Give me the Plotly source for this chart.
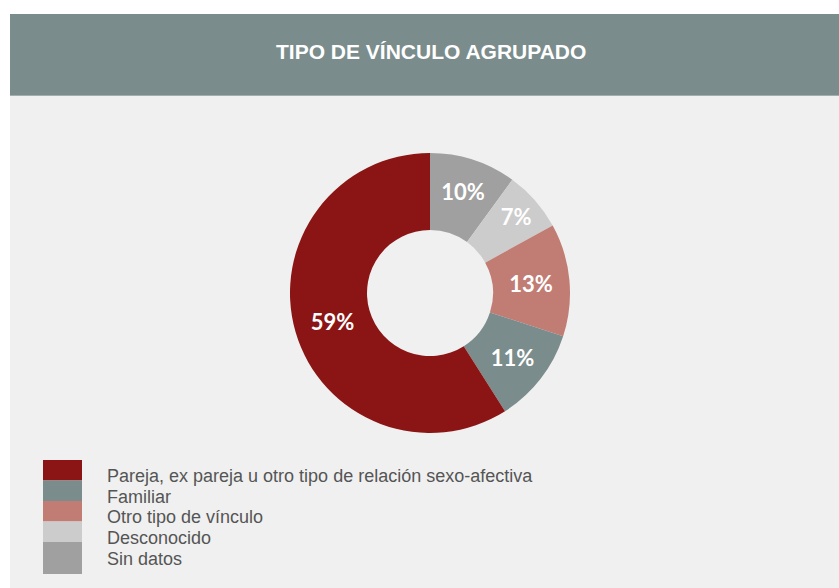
import plotly.graph_objects as go

labels = ["Pareja, ex pareja u otro tipo de relación sexo-afectiva", "Familiar",
          "Otro tipo de vínculo", "Desconocido", "Sin datos"]
values = [59, 11, 13, 7, 10]
colors = ["#8b1515", "#7b8c8c", "#c17c73", "#cccccc", "#a0a0a0"]
title = "TIPO DE VÍNCULO AGRUPADO"

W, H = 839, 588

def px_x(x):
    return x / W

def px_y(y):
    return 1 - y / H

# slices run clockwise from 12 o'clock in the reverse of the legend order
fig = go.Figure(go.Pie(
    labels=labels[::-1], values=values[::-1], sort=False, direction="clockwise",
    rotation=0, hole=0.45,
    marker=dict(colors=colors[::-1], line=dict(width=0)),
    texttemplate="%{percent:.0%}", textposition="inside",
    insidetextorientation="horizontal",
    textfont=dict(family="Lato", size=22, color="white", weight="bold"),
    domain=dict(x=[px_x(290), px_x(570)], y=[px_y(433), px_y(153)]),
    showlegend=False, hoverinfo="label+percent",
))

shapes = [
    dict(type="rect", xref="paper", yref="paper", x0=px_x(10), x1=1, y0=0, y1=px_y(95),
         fillcolor="#f0f0f0", line=dict(width=0), layer="below"),
    dict(type="rect", xref="paper", yref="paper", x0=px_x(10), x1=1, y0=px_y(96), y1=px_y(14),
         fillcolor="#a3adad", line=dict(width=0), layer="below"),
    dict(type="rect", xref="paper", yref="paper", x0=px_x(10), x1=1, y0=px_y(95), y1=px_y(14),
         fillcolor="#7b8c8c", line=dict(width=0), layer="below"),
]
annotations = [
    dict(text=title, xref="paper", yref="paper", x=px_x(431), y=px_y(52), showarrow=False,
         xanchor="center", yanchor="middle",
         font=dict(family="Liberation Sans", size=21, color="white", weight="bold")),
]

# custom legend built from the data lists
row_h = 20.5
top = 460
for i, (lab, col) in enumerate(zip(labels, colors)):
    y0 = top + i * row_h
    y1 = y0 + row_h if i < len(labels) - 1 else 574
    shapes.append(dict(type="rect", xref="paper", yref="paper", x0=px_x(43), x1=px_x(82),
                       y0=px_y(y1), y1=px_y(y0), fillcolor=col, line=dict(width=0)))
    annotations.append(dict(text=lab, xref="paper", yref="paper", x=px_x(105),
                            y=px_y(476 + i * 20.7), xanchor="left", yanchor="middle",
                            showarrow=False,
                            font=dict(family="Liberation Sans", size=18, color="#555555")))

fig.update_layout(
    width=W, height=H, margin=dict(l=0, r=0, t=0, b=0),
    paper_bgcolor="white", plot_bgcolor="white",
    shapes=shapes, annotations=annotations,
)

fig.write_html("out.html", config={"displayModeBar": False},
               post_script="document.body.style.margin='0';document.body.style.overflow='hidden';")
